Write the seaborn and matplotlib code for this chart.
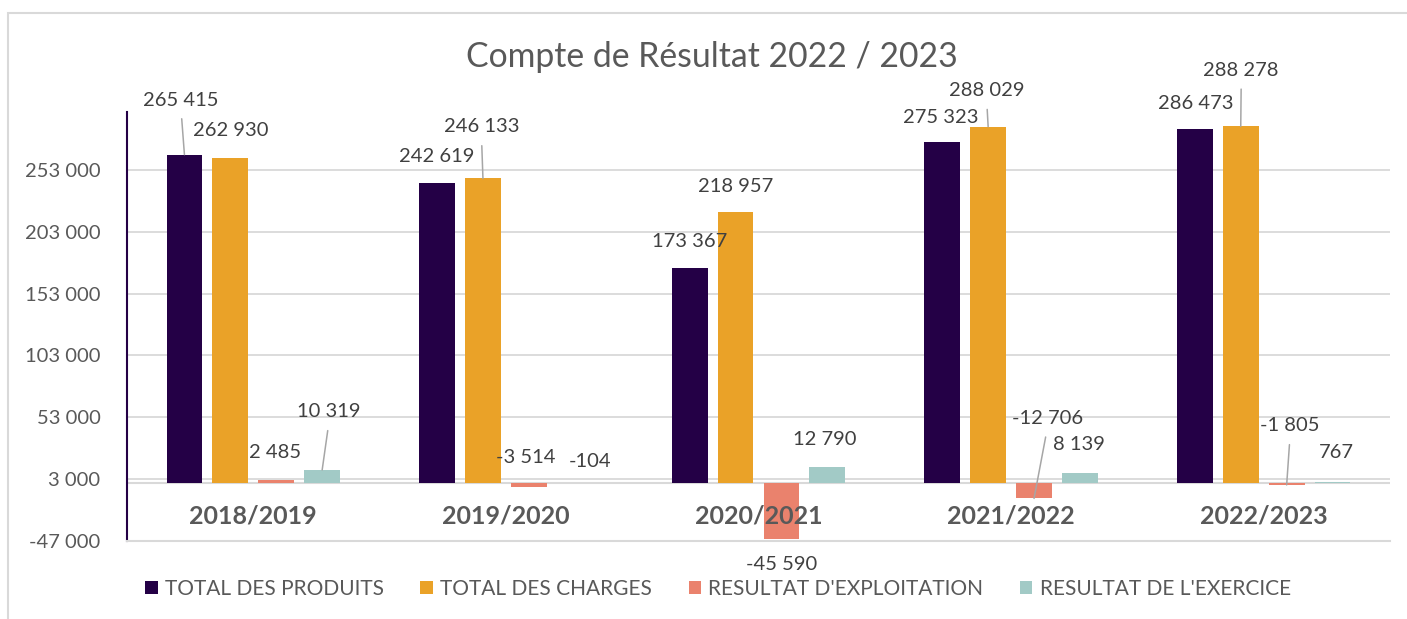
import numpy as np
import pandas as pd
import matplotlib
matplotlib.use("Agg")
import matplotlib.pyplot as plt
from matplotlib.patches import Rectangle
from matplotlib.ticker import FuncFormatter
import seaborn as sns

# ---------------- data ----------------
exercices = ["2018/2019", "2019/2020", "2020/2021", "2021/2022", "2022/2023"]
postes = ["TOTAL DES PRODUITS", "TOTAL DES CHARGES",
          "RESULTAT D'EXPLOITATION", "RESULTAT DE L'EXERCICE"]
total_produits = [265415, 242619, 173367, 275323, 286473]
total_charges = [262930, 246133, 218957, 288029, 288278]
resultat_exploitation = [2485, -3514, -45590, -12706, -1805]
resultat_exercice = [10319, -104, 12790, 8139, 767]
y_ticks = [-47000, 3000, 53000, 103000, 153000, 203000, 253000]
titre = "Compte de Résultat 2022 / 2023"

series = [total_produits, total_charges, resultat_exploitation, resultat_exercice]
df = pd.DataFrame({
    "Exercice": exercices * len(postes),
    "Poste": [p for p in postes for _ in exercices],
    "Montant": [v for s in series for v in s],
})

# ---------------- style ----------------
colors = ["#240046", "#EAA228", "#EA826D", "#A2CAC6"]
txt_gray = "#595959"
lbl_gray = "#404040"
grid_gray = "#D9D9D9"

sns.set_theme(style="white")
plt.rcParams["font.family"] = ["Lato", "DejaVu Sans"]

W, H = 1407, 619
fig = plt.figure(figsize=(W / 100, H / 100), dpi=100)
ax_top_px, ax_bot_px = 111.9, 540.8
ax = fig.add_axes([127 / W, 1 - ax_bot_px / H, (1390 - 127) / W, (ax_bot_px - ax_top_px) / H])

sns.barplot(data=df, x="Exercice", y="Montant", hue="Poste", hue_order=postes,
            order=exercices, palette=colors, width=0.727, gap=0.22,
            linewidth=0, saturation=1, ax=ax, errorbar=None)

ax.set_ylim(-47000, 300000)
ax.set_xlim(-0.5, len(exercices) - 0.5)
ax.set_yticks(y_ticks)
fmt = lambda v, p=None: f"{int(v):,}".replace(",", " ")
ax.yaxis.set_major_formatter(FuncFormatter(fmt))
ax.grid(False)
for yt in y_ticks[1:]:
    ax.axhline(yt, color=grid_gray, lw=1.3, zorder=0.5)
ax.axhline(0, color=grid_gray, lw=1.5, zorder=0.6)
ax.set_axisbelow(False)
ax.set_xlabel("")
ax.set_ylabel("")
for s in ["top", "right"]:
    ax.spines[s].set_visible(False)
ax.spines["left"].set_color("#240046")
ax.spines["left"].set_linewidth(1.5)
ax.spines["bottom"].set_color(grid_gray)
ax.spines["bottom"].set_linewidth(1.5)
ax.tick_params(axis="y", length=0, pad=19, labelsize=14.5, labelcolor=txt_gray)
ax.tick_params(axis="x", length=0, pad=-26, labelsize=18, labelcolor=txt_gray)
for t in ax.get_xticklabels():
    t.set_fontweight("bold")

# ---------------- data labels ----------------
# (dx, dy) offsets in pixels of each label centre from the bar end, and leader flag
offsets = [
    [(-3.5, 54.6, True), (-0.5, 26, False), (0, 27, False), (-1.5, 25, False), (0.5, 25.6, False)],
    [(0, 27, False), (-1.5, 51.5, True), (0, 26, False), (-1.5, 36, True), (0.5, 56, True)],
    [(-1.5, 27.6, False), (-3.5, 30, False), (0.5, -25, False), (13.5, 80, True), (3.5, 59, True)],
    [(7, 58, True), (15, 21, False), (-2.5, 27, False), (-1.5, 28.6, False), (3.5, 29, False)],
]
for j, cont in enumerate(ax.containers):
    for i, bar in enumerate(cont):
        v = series[j][i]
        x = bar.get_x() + bar.get_width() / 2
        dx, dy, lead = offsets[j][i]
        arrow = None
        if lead:
            arrow = dict(arrowstyle="-", color="#A6A6A6", lw=1.1,
                         shrinkA=5, shrinkB=0, relpos=(0.5, 0))
        ax.annotate(fmt(v), xy=(x, v), xytext=(dx, dy), textcoords="offset pixels",
                    ha="center", va="center", fontsize=14.5, color=lbl_gray,
                    arrowprops=arrow, annotation_clip=False, zorder=4)

# ---------------- title / legend / frame ----------------
fig.text(712 / W, 1 - 57 / H, titre, ha="center", va="center",
         fontsize=24.3, color=txt_gray)

sns.move_legend(ax, loc="center", bbox_to_anchor=(718 / W, 1 - 589 / H),
                bbox_transform=fig.transFigure, ncol=4, frameon=False, title=None,
                fontsize=15, handlelength=0.6, handleheight=0.6,
                handletextpad=0.35, columnspacing=1.75, labelcolor=txt_gray)

fig.patches.append(Rectangle((8 / W, -0.2), 1.2, 1 - 13 / H + 0.2,
                             transform=fig.transFigure, fill=False,
                             edgecolor=grid_gray, lw=1.5))

fig.savefig("out.png", dpi=100)
